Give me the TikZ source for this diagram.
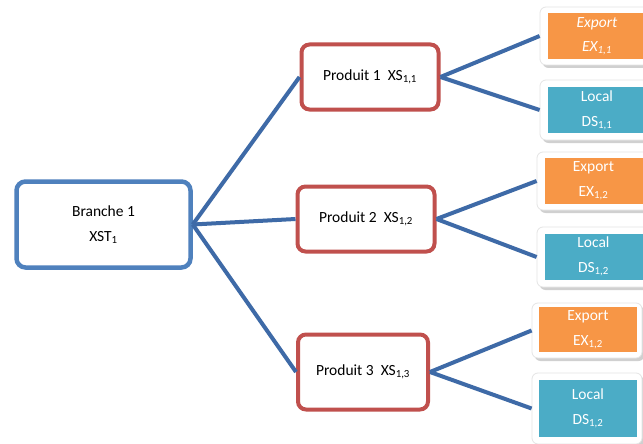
\documentclass[tikz,border=0pt]{standalone}
\usepackage{fontspec}
\setmainfont{Carlito}
\usetikzlibrary{shadows}
\definecolor{brblue}{HTML}{4F81BD}
\definecolor{lnblue}{HTML}{3E6AA7}
\definecolor{prred}{HTML}{C0504D}
\definecolor{exorange}{HTML}{F79646}
\definecolor{loteal}{HTML}{4BACC6}

\begin{document}
\begin{tikzpicture}[x=1pt, y=-1pt, font=\fontsize{15.5}{25}\selectfont,
  branch node/.style={draw=brblue, line width=4.5pt, rounded corners=9pt, fill=white, align=center, inner sep=0pt, minimum width=174pt, minimum height=86pt},
  prod node/.style={draw=prred, line width=4pt, rounded corners=8pt, fill=white, inner sep=0pt, minimum width=137pt, minimum height=65pt},
  card/.style={fill=white, draw=black!10, line width=0.8pt, rounded corners=6pt, minimum width=112pt, minimum height=58pt, inner sep=0pt, drop shadow={shadow xshift=2.5pt, shadow yshift=-3pt, opacity=0.3, fill=black!60}},
  leaf/.style={text=white, align=center, inner sep=0pt, minimum width=98pt, minimum height=46pt},
  link/.style={draw=lnblue, line width=4pt}]
\useasboundingbox (0,0) rectangle (643,444);
\fill[white] (0,0) rectangle (643,444);
% branche
\node[branch node](branche) at (103.5,224.5){Branche 1\\XST\textsubscript{1}};
% produits
\node[prod node](prod1) at (370,77){Produit 1~ XS\textsubscript{1,1}};
\node[prod node](prod2) at (366,219){Produit 2~ XS\textsubscript{1,2}};
\node[prod node, minimum width=130pt, minimum height=75pt](prod3) at (363,372){Produit 3~ XS\textsubscript{1,3}};
% cartes export / local
\node[card](ex1) at (596,36){};
\node[leaf, fill=exorange, font=\fontsize{15.5}{24}\selectfont\itshape](ex1in) at (597,36.5){Export\\EX\textsubscript{1,1}};
\node[card, minimum height=60pt](loc1) at (596,110){};
\node[leaf, fill=loteal](loc1in) at (597,110){Local\\DS\textsubscript{1,1}};
\node[card](ex2) at (593,181){};
\node[leaf, fill=exorange](ex2in) at (593.5,180.5){Export\\EX\textsubscript{1,2}};
\node[card, minimum height=60pt](loc2) at (593,257){};
\node[leaf, fill=loteal](loc2in) at (593.5,256.5){Local\\DS\textsubscript{1,2}};
\node[card, minimum width=110pt, minimum height=55pt](ex3) at (587,330.5){};
\node[leaf, fill=exorange, minimum height=45pt](ex3in) at (588,329.5){Export\\EX\textsubscript{1,2}};
\node[card, minimum width=110pt, minimum height=71pt](loc3) at (587,408.5){};
\node[leaf, fill=loteal, minimum height=57pt](loc3in) at (588,408.5){Local\\DS\textsubscript{1,2}};
% liens
\draw[link](branche.east)to(prod1.west);
\draw[link](branche.east)to(prod2.west);
\draw[link](branche.east)to(prod3.west);
\draw[link](prod1.east)to(ex1.west);
\draw[link](prod1.east)to(loc1.west);
\draw[link](prod2.east)to(ex2.west);
\draw[link](prod2.east)to(loc2.west);
\draw[link](prod3.east)to(ex3.west);
\draw[link](prod3.east)to(loc3.west);
\end{tikzpicture}
\end{document}
